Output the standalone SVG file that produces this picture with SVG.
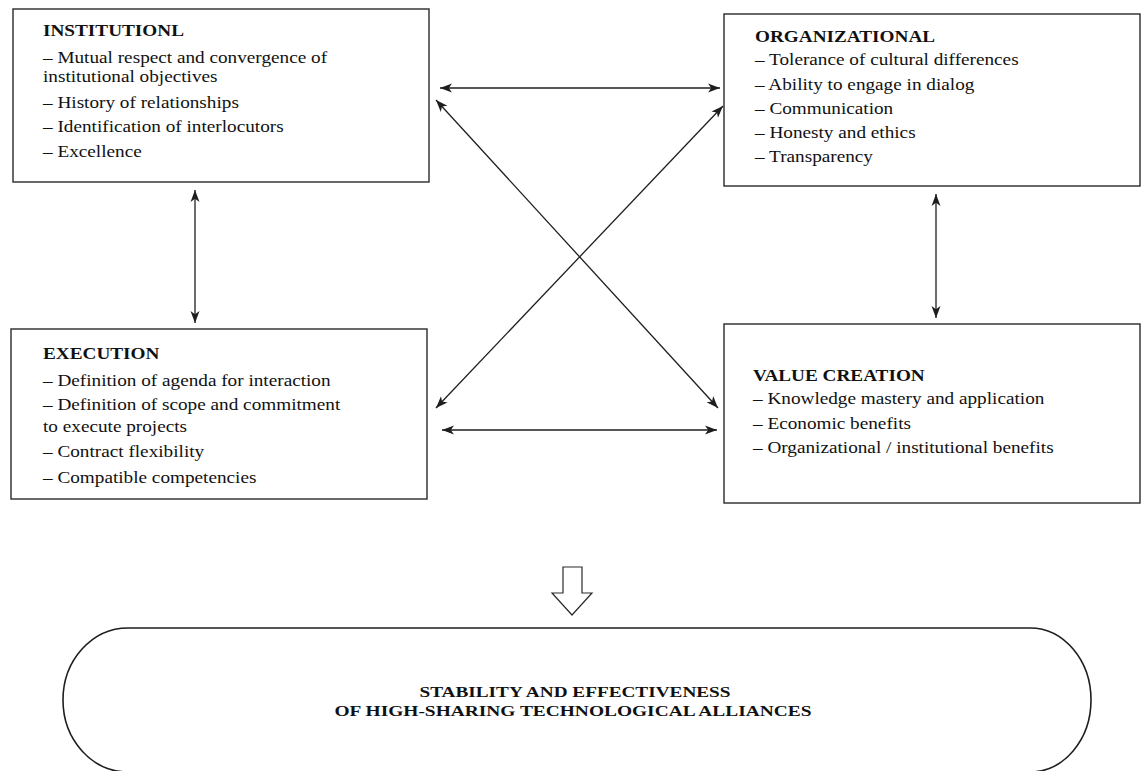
<svg xmlns="http://www.w3.org/2000/svg" width="1142" height="771" viewBox="0 0 1142 771">
  <style>
    .box { fill: #ffffff; stroke: #2a2a2a; stroke-width: 1.4; }
    .txt { font-family: "Liberation Serif", "Times New Roman", serif; font-size: 16.5px; fill: #111111; }
    .ttl { font-weight: bold; }
    .link { fill: none; stroke: #1e1e1e; stroke-width: 1.3; marker-start: url(#tip); marker-end: url(#tip); }
    .big { font-family: "Liberation Serif", "Times New Roman", serif; font-size: 15px; font-weight: bold; fill: #111111; }
  </style>
  <defs>
    <marker id="tip" viewBox="0 0 12 10" refX="12" refY="5" markerWidth="12" markerHeight="10" markerUnits="userSpaceOnUse" orient="auto-start-reverse">
      <path d="M0,0.5 L12,5 L0,9.5 L3.2,5 Z" fill="#1e1e1e"/>
    </marker>
  </defs>
  <rect width="1142" height="771" fill="#ffffff"/>

  <!-- Institutional factors -->
  <g id="institutional">
    <rect class="box" x="13" y="9" width="416" height="173"/>
    <g transform="translate(43,0) scale(1.165,1)">
      <text class="txt ttl" x="0" y="36">INSTITUTIONL</text>
      <text class="txt" x="0" y="63">– Mutual respect and convergence of</text>
      <text class="txt" x="0" y="82">institutional objectives</text>
      <text class="txt" x="0" y="108">– History of relationships</text>
      <text class="txt" x="0" y="132">– Identification of interlocutors</text>
      <text class="txt" x="0" y="157">– Excellence</text>
    </g>
  </g>

  <!-- Organizational factors -->
  <g id="organizational">
    <rect class="box" x="724" y="14" width="416" height="172"/>
    <g transform="translate(755,0) scale(1.165,1)">
      <text class="txt ttl" x="0" y="42">ORGANIZATIONAL</text>
      <text class="txt" x="0" y="65">– Tolerance of cultural differences</text>
      <text class="txt" x="0" y="90">– Ability to engage in dialog</text>
      <text class="txt" x="0" y="114">– Communication</text>
      <text class="txt" x="0" y="138">– Honesty and ethics</text>
      <text class="txt" x="0" y="162">– Transparency</text>
    </g>
  </g>

  <!-- Execution factors -->
  <g id="execution">
    <rect class="box" x="11" y="329" width="416" height="170"/>
    <g transform="translate(43,0) scale(1.165,1)">
      <text class="txt ttl" x="0" y="359">EXECUTION</text>
      <text class="txt" x="0" y="386">– Definition of agenda for interaction</text>
      <text class="txt" x="0" y="410">– Definition of scope and commitment</text>
      <text class="txt" x="0" y="432">to execute projects</text>
      <text class="txt" x="0" y="457">– Contract flexibility</text>
      <text class="txt" x="0" y="483">– Compatible competencies</text>
    </g>
  </g>

  <!-- Value creation factors -->
  <g id="value-creation">
    <rect class="box" x="724" y="324" width="416" height="179"/>
    <g transform="translate(753,0) scale(1.165,1)">
      <text class="txt ttl" x="0" y="381">VALUE CREATION</text>
      <text class="txt" x="0" y="404">– Knowledge mastery and application</text>
      <text class="txt" x="0" y="429">– Economic benefits</text>
      <text class="txt" x="0" y="453">– Organizational / institutional benefits</text>
    </g>
  </g>

  <!-- Two-way links between the four factor groups -->
  <g id="connectors">
    <line class="link" x1="440" y1="88" x2="720" y2="88"/>
    <line class="link" x1="442" y1="430" x2="717" y2="430"/>
    <line class="link" x1="195" y1="190" x2="195" y2="323"/>
    <line class="link" x1="936" y1="194" x2="936" y2="318"/>
    <line class="link" x1="436" y1="100" x2="718" y2="408"/>
    <line class="link" x1="436" y1="408" x2="723" y2="106"/>
  </g>

  <!-- Hollow arrow towards the outcome -->
  <g id="result-arrow">
    <polygon points="563,567 582,567 582,593 592,593 572,615 552,593 563,593" fill="#ffffff" stroke="#2a2a2a" stroke-width="1.2" stroke-linejoin="miter"/>
  </g>

  <!-- Outcome -->
  <g id="outcome">
    <path d="M128,628 L1030,628 A61,72 0 0 1 1030,772 L128,772 A65,72 0 0 1 128,628 Z" fill="#ffffff" stroke="#1e1e1e" stroke-width="1.6"/>
    <text class="big" x="575" y="697" text-anchor="middle" textLength="311" lengthAdjust="spacingAndGlyphs">STABILITY AND EFFECTIVENESS</text>
    <text class="big" x="573" y="716" text-anchor="middle" textLength="477" lengthAdjust="spacingAndGlyphs">OF HIGH-SHARING TECHNOLOGICAL ALLIANCES</text>
  </g>
</svg>
